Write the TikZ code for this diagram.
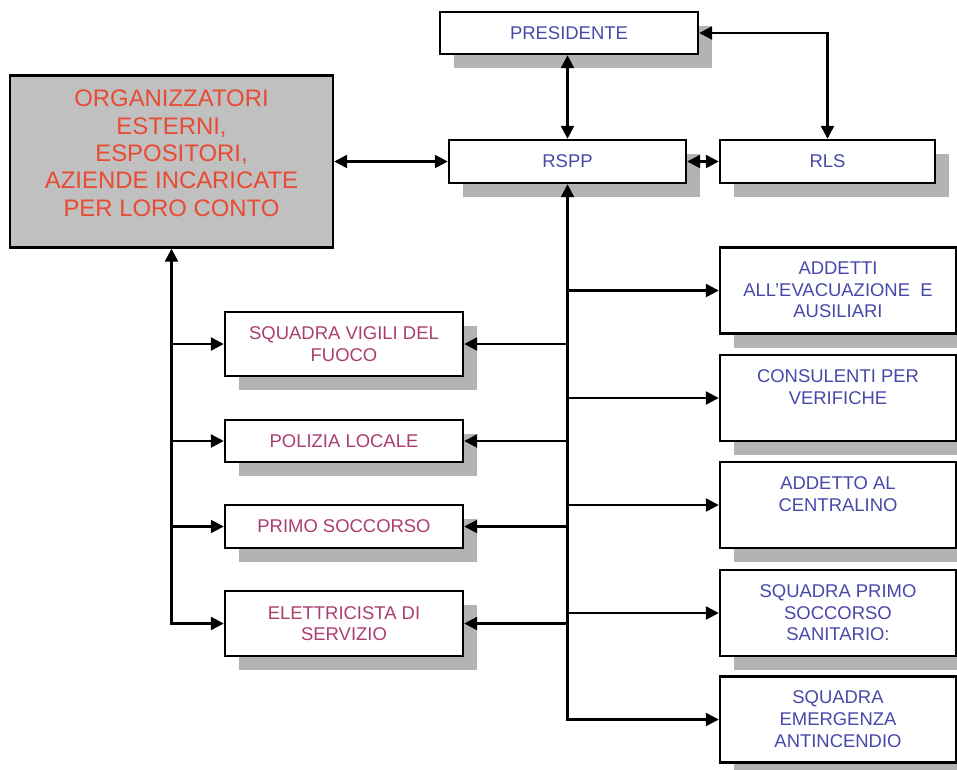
\documentclass[tikz,border=0pt]{standalone}
\usepackage{fontspec}
\setmainfont{Liberation Sans}
\usetikzlibrary{arrows.meta,shadows}
\definecolor{bluetext}{RGB}{72,72,170}
\definecolor{redtext}{RGB}{232,74,50}
\definecolor{pinktext}{RGB}{170,62,112}
\definecolor{boxgray}{RGB}{192,192,192}
\definecolor{shadegray}{RGB}{180,178,178}
\newcommand{\toptext}[1]{\parbox[c][1.14cm][t]{4.6cm}{\centering #1}}
\tikzset{
	box/.style={draw, line width=1.4pt, fill=white, inner sep=0pt,
		font=\fontsize{10.5}{12.3}\selectfont,
		drop shadow={shadow xshift=0.28cm, shadow yshift=-0.28cm, fill=shadegray, opacity=1}},
	topbox/.style={box, align=center, text=bluetext, minimum height=0.86cm},
	leftbox/.style={box, align=center, text=pinktext, minimum width=4.76cm},
	rightbox/.style={box, text=bluetext, minimum width=4.72cm, minimum height=1.72cm},
	orgbox/.style={draw, line width=1.4pt, fill=boxgray, text=redtext, align=center,
		minimum width=6.46cm, minimum height=3.44cm, font=\fontsize{13.6}{15.6}\selectfont},
	arr/.style={line width=1.4pt, -{Triangle[length=0.26cm,width=0.26cm]}},
	dblarr/.style={line width=1.4pt, {Triangle[length=0.26cm,width=0.26cm]}-{Triangle[length=0.26cm,width=0.26cm]}}
}
\begin{document}
\begin{tikzpicture}[x=0.02cm, y=-0.02cm]
	\useasboundingbox (0,0) rectangle (957,769);
	\node[topbox, minimum width=5.16cm, minimum height=0.84cm] (pres) at (569,33) {PRESIDENTE};
	\node[orgbox] (org) at (171.5,161.5) {ORGANIZZATORI\\ESTERNI,\\ESPOSITORI,\\AZIENDE INCARICATE\\PER LORO CONTO\\[-6pt]};
	\node[topbox, minimum width=4.74cm] (rspp) at (567.5,161.5) {RSPP};
	\node[topbox, minimum width=4.30cm] (rls) at (827.5,161.5) {RLS};
	\node[leftbox, minimum height=1.28cm] (vigili) at (344,344) {SQUADRA VIGILI DEL\\FUOCO};
	\node[leftbox, minimum height=0.84cm] (polizia) at (344,441) {POLIZIA LOCALE};
	\node[leftbox, minimum height=0.86cm] (soccorso) at (344,526.5) {PRIMO SOCCORSO};
	\node[leftbox, minimum height=1.30cm] (elettr) at (344,623.5) {ELETTRICISTA DI\\SERVIZIO};
	\node[rightbox] (addetti) at (838,290.5) {\toptext{ADDETTI\\ALL'EVACUAZIONE~~E\\AUSILIARI}};
	\node[rightbox] (consul) at (838,398) {\toptext{CONSULENTI PER\\VERIFICHE}};
	\node[rightbox] (centr) at (838,505) {\toptext{ADDETTO AL\\CENTRALINO}};
	\node[rightbox] (sanit) at (838,613) {\toptext{SQUADRA PRIMO\\SOCCORSO\\SANITARIO:}};
	\node[rightbox] (emerg) at (838,719.5) {\toptext{SQUADRA\\EMERGENZA\\ANTINCENDIO}};
	\draw[dblarr] (org) -- (rspp);
	\draw[dblarr] (rspp) -- (rls);
	\draw[dblarr] (rspp.north) -- (rspp.north |- pres.south);
	\draw[dblarr] (pres.east) -| (rls.north);
	\draw[dblarr] (rspp.south) |- (emerg.west);
	\draw[arr] (rspp.south |- addetti.west) -- (addetti.west);
	\draw[arr] (rspp.south |- consul.west) -- (consul.west);
	\draw[arr] (rspp.south |- centr.west) -- (centr.west);
	\draw[arr] (rspp.south |- sanit.west) -- (sanit.west);
	\draw[arr] (rspp.south |- vigili.east) -- (vigili.east);
	\draw[arr] (rspp.south |- polizia.east) -- (polizia.east);
	\draw[arr] (rspp.south |- soccorso.east) -- (soccorso.east);
	\draw[arr] (rspp.south |- elettr.east) -- (elettr.east);
	\draw[dblarr] (org.south) |- (elettr.west);
	\draw[arr] (org.south |- vigili.west) -- (vigili.west);
	\draw[arr] (org.south |- polizia.west) -- (polizia.west);
	\draw[arr] (org.south |- soccorso.west) -- (soccorso.west);
\end{tikzpicture}
\end{document}
